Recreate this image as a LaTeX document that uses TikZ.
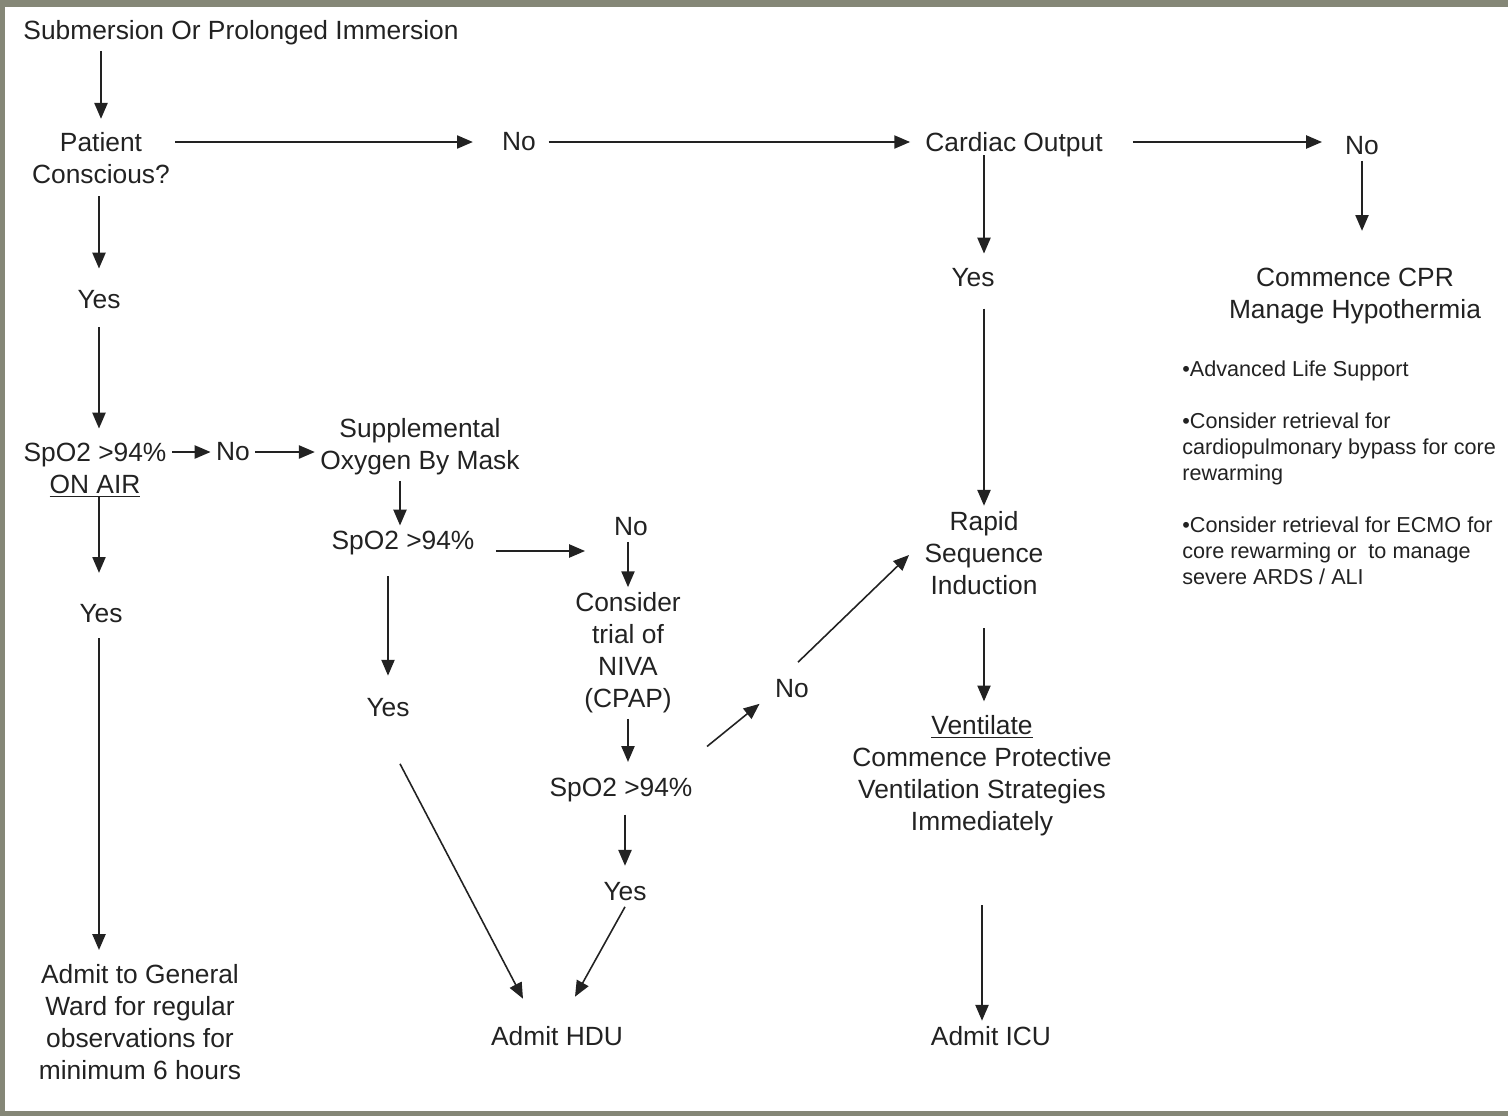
\documentclass[tikz,border=0pt]{standalone}
\usepackage{fontspec}
\setmainfont{Liberation Sans}
\usetikzlibrary{arrows.meta}
\definecolor{framegray}{HTML}{858777}
\definecolor{inkgray}{HTML}{222222}

\begin{document}
\begin{tikzpicture}[
    x=0.02cm, y=-0.02cm,
    txt/.style={align=center, inner sep=3pt, text=inkgray, font=\fontsize{15}{18.2}\selectfont},
    note/.style={align=left, inner sep=0pt, anchor=north west, text=inkgray, font=\fontsize{12.3}{14.8}\selectfont},
    arr/.style={-{Triangle[length=9pt,width=7.5pt]}, line width=0.9pt, color=inkgray}
]
% frame
\useasboundingbox (0,0) rectangle (1508,1116);
\fill[framegray] (0,0) rectangle (1508,1116);
\fill[white] (5,7) rectangle (1508,1111);

% left column
\node[txt] (start) at (241,33) {Submersion Or Prolonged Immersion};
\node[txt] (consc) at (101,158) {Patient\\Conscious?};
\node[txt] (yes1) at (99,300) {Yes};
\node[txt] (spoair) at (95,470) {SpO2 >94\%\\\underline{ON AIR}};
\node[txt] (no3) at (233,452) {No};
\node[txt] (yes2) at (101,614) {Yes};
\node[txt] (ward) at (140,1022) {Admit to General\\Ward for regular\\observations for\\minimum 6 hours};

% mask / NIVA
\node[txt] (mask) at (420,447) {Supplemental\\Oxygen By Mask};
\node[txt] (spomask) at (403,543) {SpO2 >94\%};
\node[txt] (no4) at (631,527) {No};
\coordinate (tono4) at (585,551);
\node[txt] (yes3) at (388,708) {Yes};
\node[txt] (niva) at (628,653) {Consider\\trial of\\NIVA\\(CPAP)};
\node[txt] (sponiva) at (621,790) {SpO2 >94\%};
\node[txt] (yes4) at (625,892) {Yes};
\node[txt] (no5) at (792,689) {No};
\node[txt] (hdu) at (557,1036) {Admit HDU};

% unconscious branch
\node[txt] (no1) at (519,142) {No};
\node[txt] (cardiac) at (1014,145) {Cardiac Output};
\node[txt] (yes5) at (973,278) {Yes};
\node[txt] (rsi) at (984,553) {Rapid\\Sequence\\Induction};
\node[txt] (vent) at (982,776) {\underline{Ventilate}\\Commence Protective\\Ventilation Strategies\\Immediately};
\node[txt] (icu) at (991,1036) {Admit ICU};
\node[txt] (no2) at (1362,146) {No};
\node[txt] (cpr) at (1355,296) {Commence CPR\\Manage Hypothermia};
\node[note] (als) at (1182,360) {•Advanced Life Support\\[14.8pt]%
•Consider retrieval for\\cardiopulmonary bypass for core\\rewarming\\[14.8pt]%
•Consider retrieval for ECMO for\\core rewarming or~ to manage\\severe ARDS / ALI};

% connectors
\draw[arr, shorten >=4.5pt] (start.south -| consc) -- (consc);
\draw[arr, shorten >=13.5pt] (consc.east |- no1) -- (no1);
\draw[arr, shorten <=4pt, shorten >=5.5pt] (no1) -- (cardiac.west |- no1);
\draw[arr, shorten <=14pt, shorten >=10pt] (cardiac.east |- no1) -- (no2.west |- no1);
\draw[arr, shorten >=18pt] (no2.south) -- (no2.south |- cpr.north);
\draw[arr, shorten <=-4.5pt, shorten >=5.5pt] (cardiac.south -| rsi) -- (rsi |- yes5.north);
\draw[arr, shorten <=9pt] (yes5.south -| rsi) -- (rsi.north);
\draw[arr, shorten <=16pt, shorten >=5pt] (rsi.south) -- (rsi.south |- vent.north);
\draw[arr, shorten <=36pt] (vent.south) -- (vent.south |- icu.north);

\draw[arr, shorten <=4pt, shorten >=9.5pt] (consc.south -| yes1) -- (yes1);
\draw[arr, shorten <=7pt, shorten >=5pt] (yes1.south) -- (yes1.south |- spoair.north);
\draw[arr] (spoair.east |- no3) -- (no3);
\draw[arr] (no3) -- (mask.west |- no3);
\draw[arr, shorten <=-3pt, shorten >=15pt] (spoair.south -| yes1) -- (yes1 |- yes2.north);
\draw[arr, shorten <=5.5pt, shorten >=5pt] (yes2.south -| yes1) -- (yes1 |- ward.north);

\draw[arr] (mask.south -| 400,0) -- (spomask.north -| 400,0);
\draw[arr, shorten <=9pt] (spomask.east |- tono4) -- (tono4);
\draw[arr] (no4.south -| niva) -- (niva);
\draw[arr, shorten <=9pt, shorten >=10pt] (spomask.south -| yes3) -- (yes3);
\draw[arr] ([shift={(12,41)}]yes3.south) -- ([shift={(-34,-22)}]hdu.north);
\draw[arr, shorten >=6pt] (niva.south) -- (niva.south |- sponiva.north);
\draw[arr] ([shift={(9,-26)}]sponiva.north east) -- ([shift={(-10,0)}]no5.south west);
\draw[arr] ([shift={(6,-12)}]no5.north) -- ([shift={(-10,2)}]rsi.west);
\draw[arr, shorten <=4pt, shorten >=6.5pt] (sponiva.south -| yes4) -- (yes4);
\draw[arr] (yes4.south) -- ([shift={(18,-24)}]hdu.north);
\end{tikzpicture}
\end{document}
